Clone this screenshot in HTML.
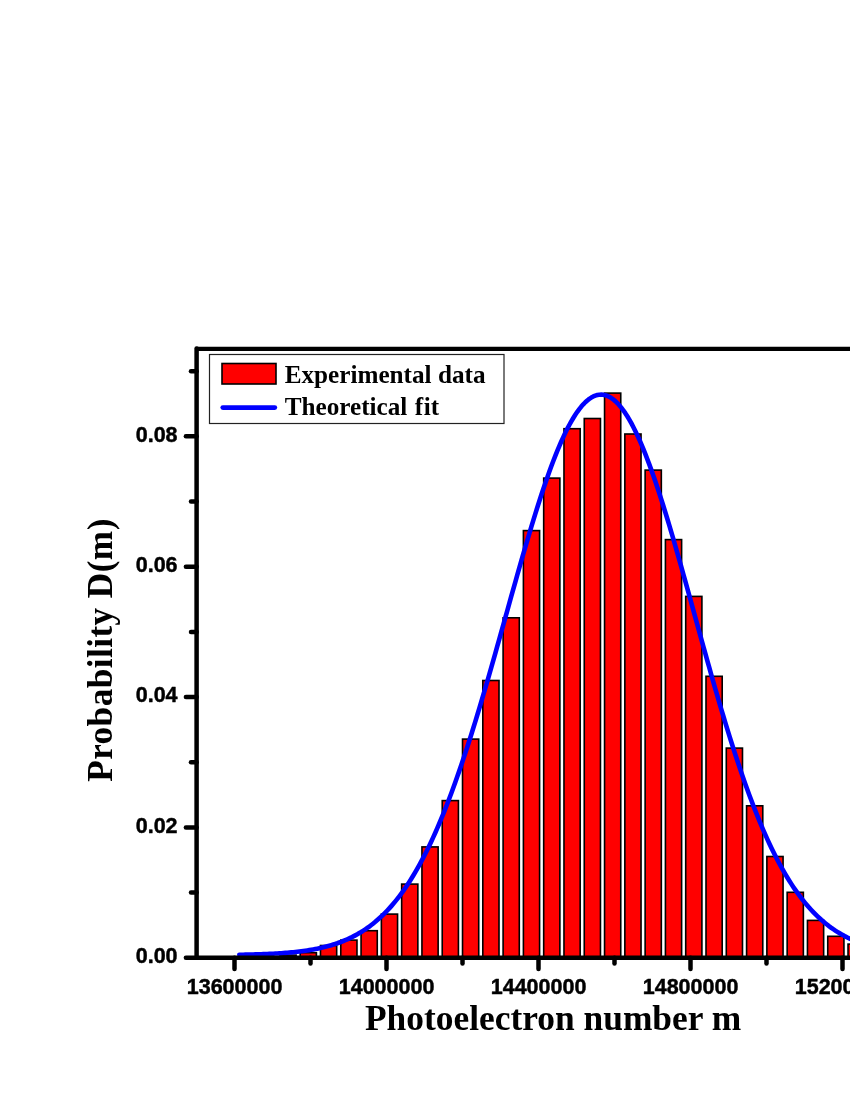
<!DOCTYPE html>
<html><head><meta charset="utf-8"><title>Photoelectron number distribution</title>
<style>
html,body{margin:0;padding:0;background:#fff;}
body{width:850px;height:1100px;overflow:hidden;font-family:"Liberation Sans",sans-serif;}
svg{display:block;will-change:transform;font-variant-ligatures:none;font-kerning:normal;}
</style></head><body>
<svg width="850" height="1100" viewBox="0 0 850 1100">
<rect x="0" y="0" width="850" height="1100" fill="#fff"/>
<g fill="#ff0000" stroke="#000" stroke-width="1.6">
<rect x="279.91" y="955.10" width="16.20" height="2.65"/>
<rect x="300.20" y="952.70" width="16.20" height="5.05"/>
<rect x="320.49" y="945.50" width="16.20" height="12.25"/>
<rect x="340.78" y="940.10" width="16.20" height="17.65"/>
<rect x="361.07" y="930.70" width="16.20" height="27.05"/>
<rect x="381.36" y="914.10" width="16.20" height="43.65"/>
<rect x="401.65" y="884.10" width="16.20" height="73.65"/>
<rect x="421.94" y="846.90" width="16.20" height="110.85"/>
<rect x="442.23" y="800.60" width="16.20" height="157.15"/>
<rect x="462.52" y="739.10" width="16.20" height="218.65"/>
<rect x="482.81" y="680.50" width="16.20" height="277.25"/>
<rect x="503.10" y="617.80" width="16.20" height="339.95"/>
<rect x="523.39" y="530.60" width="16.20" height="427.15"/>
<rect x="543.68" y="478.10" width="16.20" height="479.65"/>
<rect x="563.97" y="428.70" width="16.20" height="529.05"/>
<rect x="584.26" y="418.50" width="16.20" height="539.25"/>
<rect x="604.55" y="393.10" width="16.20" height="564.65"/>
<rect x="624.84" y="434.00" width="16.20" height="523.75"/>
<rect x="645.13" y="470.10" width="16.20" height="487.65"/>
<rect x="665.42" y="539.60" width="16.20" height="418.15"/>
<rect x="685.71" y="596.40" width="16.20" height="361.35"/>
<rect x="706.00" y="676.30" width="16.20" height="281.45"/>
<rect x="726.29" y="748.10" width="16.20" height="209.65"/>
<rect x="746.58" y="805.80" width="16.20" height="151.95"/>
<rect x="766.87" y="856.50" width="16.20" height="101.25"/>
<rect x="787.16" y="892.30" width="16.20" height="65.45"/>
<rect x="807.45" y="920.40" width="16.20" height="37.35"/>
<rect x="827.74" y="936.30" width="16.20" height="21.45"/>
<rect x="848.03" y="944.10" width="16.20" height="13.65"/>
</g>
<polyline fill="none" stroke="#0000ff" stroke-width="4.6" stroke-linecap="round" stroke-linejoin="round" points="239.3,954.74 241.3,954.71 243.3,954.68 245.3,954.64 247.3,954.60 249.3,954.55 251.3,954.50 253.3,954.45 255.3,954.40 257.3,954.34 259.3,954.27 261.3,954.21 263.3,954.13 265.3,954.05 267.3,953.97 269.3,953.88 271.3,953.78 273.3,953.68 275.3,953.57 277.3,953.45 279.3,953.33 281.3,953.20 283.3,953.05 285.3,952.90 287.3,952.74 289.3,952.57 291.3,952.38 293.3,952.19 295.3,951.98 297.3,951.76 299.3,951.52 301.3,951.28 303.3,951.01 305.3,950.73 307.3,950.43 309.3,950.12 311.3,949.78 313.3,949.43 315.3,949.05 317.3,948.66 319.3,948.24 321.3,947.79 323.3,947.33 325.3,946.83 327.3,946.31 329.3,945.76 331.3,945.18 333.3,944.57 335.3,943.92 337.3,943.25 339.3,942.53 341.3,941.78 343.3,940.99 345.3,940.17 347.3,939.30 349.3,938.38 351.3,937.43 353.3,936.42 355.3,935.37 357.3,934.27 359.3,933.11 361.3,931.91 363.3,930.65 365.3,929.33 367.3,927.95 369.3,926.51 371.3,925.01 373.3,923.44 375.3,921.81 377.3,920.10 379.3,918.33 381.3,916.49 383.3,914.57 385.3,912.57 387.3,910.50 389.3,908.34 391.3,906.10 393.3,903.78 395.3,901.38 397.3,898.88 399.3,896.30 401.3,893.62 403.3,890.85 405.3,887.99 407.3,885.02 409.3,881.97 411.3,878.81 413.3,875.55 415.3,872.18 417.3,868.72 419.3,865.15 421.3,861.47 423.3,857.69 425.3,853.79 427.3,849.79 429.3,845.68 431.3,841.46 433.3,837.13 435.3,832.69 437.3,828.14 439.3,823.48 441.3,818.71 443.3,813.82 445.3,808.83 447.3,803.72 449.3,798.51 451.3,793.19 453.3,787.77 455.3,782.24 457.3,776.60 459.3,770.87 461.3,765.03 463.3,759.10 465.3,753.07 467.3,746.94 469.3,740.73 471.3,734.43 473.3,728.04 475.3,721.58 477.3,715.03 479.3,708.41 481.3,701.73 483.3,694.97 485.3,688.15 487.3,681.28 489.3,674.36 491.3,667.38 493.3,660.37 495.3,653.31 497.3,646.23 499.3,639.12 501.3,631.99 503.3,624.84 505.3,617.68 507.3,610.53 509.3,603.38 511.3,596.23 513.3,589.11 515.3,582.01 517.3,574.94 519.3,567.91 521.3,560.92 523.3,553.98 525.3,547.11 527.3,540.29 529.3,533.56 531.3,526.90 533.3,520.33 535.3,513.86 537.3,507.48 539.3,501.22 541.3,495.07 543.3,489.05 545.3,483.15 547.3,477.40 549.3,471.79 551.3,466.32 553.3,461.02 555.3,455.88 557.3,450.91 559.3,446.12 561.3,441.50 563.3,437.08 565.3,432.85 567.3,428.82 569.3,424.99 571.3,421.37 573.3,417.97 575.3,414.78 577.3,411.81 579.3,409.07 581.3,406.56 583.3,404.28 585.3,402.24 587.3,400.44 589.3,398.87 591.3,397.55 593.3,396.48 595.3,395.65 597.3,395.06 599.3,394.73 601.3,394.64 603.3,394.81 605.3,395.23 607.3,395.90 609.3,396.83 611.3,398.01 613.3,399.45 615.3,401.13 617.3,403.06 619.3,405.23 621.3,407.64 623.3,410.29 625.3,413.17 627.3,416.29 629.3,419.63 631.3,423.19 633.3,426.97 635.3,430.96 637.3,435.16 639.3,439.56 641.3,444.15 643.3,448.94 645.3,453.91 647.3,459.05 649.3,464.37 651.3,469.85 653.3,475.49 655.3,481.28 657.3,487.21 659.3,493.28 661.3,499.48 663.3,505.79 665.3,512.23 667.3,518.77 669.3,525.41 671.3,532.14 673.3,538.95 675.3,545.84 677.3,552.80 679.3,559.83 681.3,566.90 683.3,574.03 685.3,581.19 687.3,588.39 689.3,595.61 691.3,602.85 693.3,610.10 695.3,617.36 697.3,624.61 699.3,631.86 701.3,639.09 703.3,646.30 705.3,653.48 707.3,660.63 709.3,667.74 711.3,674.81 713.3,681.83 715.3,688.79 717.3,695.70 719.3,702.54 721.3,709.31 723.3,716.01 725.3,722.63 727.3,729.17 729.3,735.63 731.3,742.00 733.3,748.29 735.3,754.47 737.3,760.56 739.3,766.55 741.3,772.44 743.3,778.23 745.3,783.91 747.3,789.49 749.3,794.95 751.3,800.31 753.3,805.56 755.3,810.69 757.3,815.71 759.3,820.62 761.3,825.41 763.3,830.09 765.3,834.66 767.3,839.11 769.3,843.45 771.3,847.68 773.3,851.79 775.3,855.79 777.3,859.68 779.3,863.46 781.3,867.13 783.3,870.69 785.3,874.14 787.3,877.49 789.3,880.73 791.3,883.87 793.3,886.91 795.3,889.85 797.3,892.69 799.3,895.44 801.3,898.09 803.3,900.65 805.3,903.11 807.3,905.49 809.3,907.78 811.3,909.98 813.3,912.11 815.3,914.15 817.3,916.11 819.3,917.99 821.3,919.81 823.3,921.54 825.3,923.21 827.3,924.81 829.3,926.34 831.3,927.80 833.3,929.21 835.3,930.55 837.3,931.83 839.3,933.06 841.3,934.23 843.3,935.35 845.3,936.42 847.3,937.43 849.3,938.40 851.3,939.33 853.3,940.21 855.3,941.05 857.3,941.84 859.3,942.60"/>
<g stroke="#000" stroke-width="4.5" stroke-linecap="round" fill="none">
<line x1="196.6" y1="348.6" x2="196.6" y2="957.75"/>
<line x1="196.6" y1="348.9" x2="870" y2="348.9" stroke-linecap="butt" stroke-width="4.2"/>
<line x1="196.6" y1="957.75" x2="870" y2="957.75" stroke-width="4.7"/>
<line x1="185.9" y1="957.75" x2="196.6" y2="957.75"/>
<line x1="191" y1="892.58" x2="196.6" y2="892.58"/>
<line x1="185.9" y1="827.40" x2="196.6" y2="827.40"/>
<line x1="191" y1="762.23" x2="196.6" y2="762.23"/>
<line x1="185.9" y1="697.05" x2="196.6" y2="697.05"/>
<line x1="191" y1="631.88" x2="196.6" y2="631.88"/>
<line x1="185.9" y1="566.70" x2="196.6" y2="566.70"/>
<line x1="191" y1="501.53" x2="196.6" y2="501.53"/>
<line x1="185.9" y1="436.35" x2="196.6" y2="436.35"/>
<line x1="191" y1="371.18" x2="196.6" y2="371.18"/>
<line x1="234.50" y1="957.75" x2="234.50" y2="969"/>
<line x1="310.50" y1="957.75" x2="310.50" y2="963.4"/>
<line x1="386.50" y1="957.75" x2="386.50" y2="969"/>
<line x1="462.50" y1="957.75" x2="462.50" y2="963.4"/>
<line x1="538.50" y1="957.75" x2="538.50" y2="969"/>
<line x1="614.50" y1="957.75" x2="614.50" y2="963.4"/>
<line x1="690.50" y1="957.75" x2="690.50" y2="969"/>
<line x1="766.50" y1="957.75" x2="766.50" y2="963.4"/>
<line x1="842.50" y1="957.75" x2="842.50" y2="969"/>
</g>
<g font-family="'Liberation Sans', sans-serif" font-weight="bold" font-size="21.5px" fill="#000" stroke="#000" stroke-width="0.45" stroke-linejoin="round">
<text x="177.6" y="963.15" text-anchor="end">0.00</text>
<text x="177.6" y="832.80" text-anchor="end">0.02</text>
<text x="177.6" y="702.45" text-anchor="end">0.04</text>
<text x="177.6" y="572.10" text-anchor="end">0.06</text>
<text x="177.6" y="441.75" text-anchor="end">0.08</text>
<text x="234.60" y="993.8" text-anchor="middle">13600000</text>
<text x="386.60" y="993.8" text-anchor="middle">14000000</text>
<text x="538.60" y="993.8" text-anchor="middle">14400000</text>
<text x="690.60" y="993.8" text-anchor="middle">14800000</text>
<text x="842.60" y="993.8" text-anchor="middle">15200000</text>
</g>
<g font-family="'Liberation Serif', serif" font-weight="bold" fill="#000">
<text x="365.0" y="1029.9" font-size="35.4px">Photoelectron number m</text>
<text transform="translate(111.8,781.8) rotate(-90)" font-size="35.2px" letter-spacing="0.45">Probability D(m)</text>
<rect x="209.5" y="354.5" width="294.5" height="69" fill="#fff" stroke="#222" stroke-width="1.2"/>
<rect x="222" y="363.5" width="54" height="20.5" fill="#ff0000" stroke="#000" stroke-width="1.6"/>
<line x1="222.8" y1="407.6" x2="274.8" y2="407.6" stroke="#0000ff" stroke-width="4.8" stroke-linecap="round"/>
<text x="284.7" y="383.0" font-size="25.2px">Experimental data</text>
<text x="284.7" y="414.5" font-size="25.2px">Theoretical <tspan dx="1.1">f</tspan><tspan dx="0.7">it</tspan></text>
</g>
</svg>
</body></html>
